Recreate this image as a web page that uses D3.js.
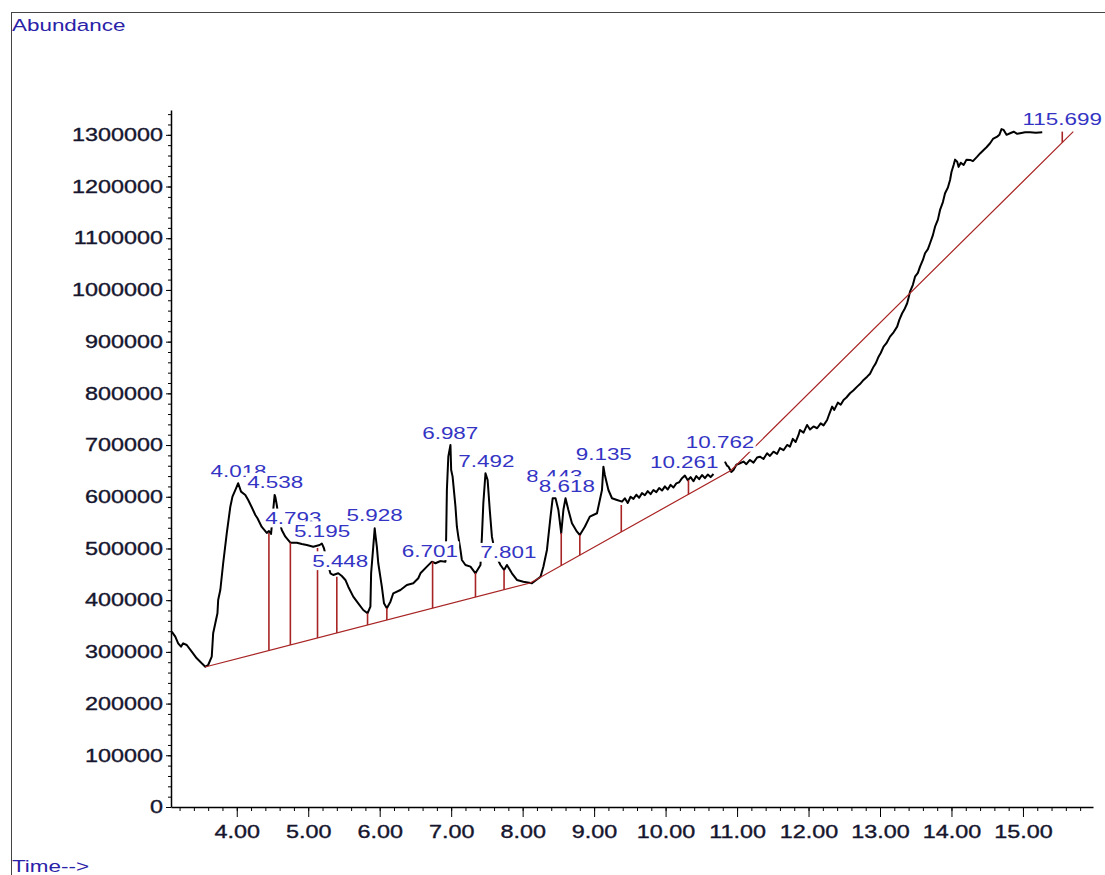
<!DOCTYPE html>
<html>
<head>
<meta charset="utf-8">
<script src="https://cdn.jsdelivr.net/npm/d3@7"></script>
<style>
body { margin: 0; background: #fff; }
text { font-family: "Liberation Sans", Arial, sans-serif; }
</style>
</head>
<body>
<div id="chart"></div>
<script>
// chromatogram trace (retention time in min, abundance)
var traceTime = [
  3.09, 3.14, 3.18, 3.22, 3.25, 3.30, 3.37, 3.44, 3.51, 3.56,
  3.60, 3.65, 3.67, 3.70, 3.73, 3.74, 3.77, 3.81, 3.86, 3.91,
  3.94, 3.99, 4.02, 4.06, 4.12, 4.16, 4.21, 4.26, 4.29, 4.35,
  4.42, 4.45, 4.48, 4.51, 4.53, 4.54, 4.56, 4.59, 4.63, 4.68,
  4.75, 4.84, 4.91, 4.98, 5.07, 5.16, 5.19, 5.22, 5.26, 5.31,
  5.35, 5.42, 5.47, 5.52, 5.56, 5.63, 5.70, 5.77, 5.83, 5.87,
  5.88, 5.91, 5.93, 5.94, 5.96, 5.98, 6.03, 6.06, 6.10, 6.15,
  6.19, 6.29, 6.38, 6.47, 6.54, 6.57, 6.66, 6.73, 6.78, 6.85,
  6.92, 6.93, 6.94, 6.96, 6.99, 7.00, 7.02, 7.06, 7.08, 7.10,
  7.13, 7.15, 7.20, 7.27, 7.34, 7.41, 7.43, 7.45, 7.48, 7.51,
  7.54, 7.57, 7.62, 7.69, 7.74, 7.78, 7.85, 7.92, 8.01, 8.13,
  8.25, 8.29, 8.34, 8.39, 8.42, 8.46, 8.50, 8.54, 8.57, 8.60,
  8.64, 8.69, 8.76, 8.80, 8.87, 8.94, 9.04, 9.08, 9.11, 9.13,
  9.15, 9.20, 9.25, 9.32, 9.39, 9.43, 9.47, 9.51, 9.55, 9.59,
  9.63, 9.67, 9.71, 9.75, 9.79, 9.83, 9.87, 9.91, 9.95, 9.99,
  10.03, 10.07, 10.11, 10.15, 10.19, 10.23, 10.27, 10.31, 10.35, 10.39,
  10.43, 10.47, 10.51, 10.55, 10.59, 10.63, 10.67, 10.75, 10.83, 10.86,
  10.88, 10.92, 10.95, 10.99, 11.04, 11.09, 11.13, 11.18, 11.23, 11.28,
  11.32, 11.37, 11.42, 11.46, 11.51, 11.56, 11.60, 11.65, 11.70, 11.74,
  11.78, 11.82, 11.86, 11.88, 11.93, 11.98, 12.02, 12.07, 12.12, 12.17,
  12.21, 12.26, 12.29, 12.33, 12.36, 12.41, 12.45, 12.49, 12.53, 12.58,
  12.63, 12.68, 12.72, 12.77, 12.82, 12.86, 12.91, 12.94, 12.98, 13.01,
  13.05, 13.09, 13.14, 13.19, 13.24, 13.27, 13.31, 13.34, 13.38, 13.40,
  13.42, 13.46, 13.49, 13.53, 13.56, 13.60, 13.63, 13.67, 13.70, 13.74,
  13.77, 13.81, 13.84, 13.88, 13.91, 13.95, 13.98, 14.00, 14.03, 14.05,
  14.08, 14.10, 14.13, 14.17, 14.21, 14.26, 14.30, 14.36, 14.40, 14.45,
  14.49, 14.54, 14.58, 14.64, 14.67, 14.70, 14.73, 14.77, 14.82, 14.87,
  14.92, 14.96, 15.03, 15.10, 15.18, 15.27
];
var traceAbundance = [
  339100, 329400, 316600, 310100, 316600, 313300, 300400, 287600, 277900, 271400,
  274600, 290700, 336000, 355300, 374700, 400400, 419700, 471400, 529400, 580800,
  600200, 616400, 626100, 609900, 603500, 593800, 579700, 564800, 558400, 541600,
  530000, 533800, 528000, 574300, 603500, 599600, 584100, 555100, 535800, 522800,
  511200, 511200, 508700, 506800, 503500, 506800, 509700, 500400, 477700, 452000,
  448700, 452000, 446800, 439100, 426100, 406800, 394000, 381000, 374700, 387400,
  452000, 503500, 539100, 526100, 503500, 471400, 426100, 394000, 384300, 397100,
  413300, 419700, 429400, 432700, 442400, 452000, 464800, 474500, 471400, 475800,
  474500, 522800, 613100, 677500, 700200, 651800, 638900, 580800, 542100, 522800,
  497100, 477700, 468100, 464800, 452000, 468100, 522800, 587400, 645400, 632500,
  574400, 522800, 487400, 468100, 458400, 468100, 452000, 439100, 435800, 432700,
  445400, 464800, 497100, 561500, 597100, 597100, 574400, 529400, 574400, 597100,
  574400, 548700, 532500, 526100, 542100, 561500, 568100, 593800, 613100, 658200,
  642100, 613100, 597100, 593800, 590500, 597000, 588000, 600000, 596000, 604000,
  598000, 607000, 603000, 611000, 605000, 613000, 609000, 617000, 612000, 620000,
  614000, 623000, 618000, 626000, 628000, 636000, 641000, 632000, 638000, 630000,
  640000, 634000, 642000, 636000, 643000, 638000, 644000, null, 667900, 660000,
  658200, 648000, 651800, 662000, 664800, 668000, 663000, 671200, 666000, 676000,
  677500, 673000, 684000, 679000, 687200, 683000, 694000, 690000, 700200, 697000,
  712000, 706000, 719500, 729200, 724000, 738900, 730000, 736000, 732500, 742000,
  738000, 748500, 760000, 774300, 768000, 782000, 778000, 787300, 792000, 800200,
  806000, 813000, 818000, 826000, 832300, 838000, 851600, 858000, 871000, 878000,
  890300, 897000, 909700, 918000, 929000, 942000, 954900, 962000, 974300, 985000,
  996700, 1010000, 1025700, 1033000, 1045000, 1058000, 1070900, 1079000, 1090300, 1106000,
  1122400, 1136000, 1154700, 1170000, 1187000, 1198000, 1212700, 1228000, 1241700, 1252000,
  1248100, 1238000, 1246000, 1241700, 1252000, 1251400, 1249000, 1257800, 1264000, 1270800,
  1276000, 1283700, 1292000, 1296500, 1300000, 1311000, 1309500, 1300000, 1303100, 1306000,
  1302000, 1303100, 1305000, 1305000, 1304000, 1305000
];

// integration baseline (red)
var baseTimes = [3.556, 8.105, 10.913, 15.704];
var baseValues = [270800, 433300, 650700, 1306200];

// peak drop lines
var dropTimes = [4.45, 4.75, 5.13, 5.40, 5.83, 6.10, 6.74, 7.34, 7.74, 8.54, 8.80, 9.38, 10.32, 15.55];
var dropTops = [530000, 511200, 501000, 445400, 374700, 384900, 474500, 452600, 458400, 530000, 526100, 584100, 632500, 1306200];

// peak labels
var peakLabels = ["4.018", "4.538", "4.793", "5.195", "5.448", "5.928", "6.701", "6.987", "7.492", "7.801", "8.443", "8.618", "9.135", "10.261", "10.762", "115.699"];
var peakLabelTimes = [4.025, 4.538, 4.793, 5.195, 5.448, 5.928, 6.701, 6.987, 7.492, 7.801, 8.443, 8.618, 9.135, 10.261, 10.762, 15.55];
var peakLabelHeights = [627300, 604800, 535800, 511200, 453200, 541600, 472500, 699600, 646600, 469400, 617600, 598200, 659600, 643500, 682200, 1307500];

// axis ticks
var yTickValues = [0, 100000, 200000, 300000, 400000, 500000, 600000, 700000, 800000, 900000, 1000000, 1100000, 1200000, 1300000];
var xTickValues = [4, 5, 6, 7, 8, 9, 10, 11, 12, 13, 14, 15];

var W = 1105, H = 875;
var sx = 1.3; // text is drawn horizontally stretched

var svg = d3.select("#chart")
    .append("svg")
    .attr("width", W)
    .attr("height", H);

// outer frame
svg.append("rect")
    .attr("x", 11.5).attr("y", 12.5)
    .attr("width", 1200).attr("height", 1000)
    .attr("fill", "none")
    .attr("stroke", "#444")
    .attr("stroke-width", 1);

var x = d3.scaleLinear().domain([3.08, 15.98]).range([171, 1093]);
var y = d3.scaleLinear().domain([0, 1348000]).range([807, 110]);

function stretch(sel, s) {
    sel.selectAll("text").each(function() {
        var t = d3.select(this);
        var xx = +t.attr("x") || 0;
        t.attr("x", xx / s).attr("transform", "scale(" + s + ",1)");
    });
}

// Y axis: minor then major
var yMinor = d3.range(0, 1340001, 20000);
svg.append("g")
    .attr("transform", "translate(171,0)")
    .call(d3.axisLeft(y).tickValues(yMinor).tickSize(3).tickSizeOuter(0).tickFormat(""))
    .call(function(g) { g.selectAll("line").attr("stroke", "#000"); g.select(".domain").attr("stroke", "#000").attr("stroke-width", 1.5); });

var yAxis = svg.append("g")
    .attr("transform", "translate(171,0)")
    .call(d3.axisLeft(y).tickValues(yTickValues).tickSize(5).tickSizeOuter(0).tickPadding(3).tickFormat(d3.format("d")));
yAxis.select(".domain").remove();
yAxis.selectAll("line").attr("stroke", "#000");
yAxis.selectAll("text").attr("font-size", 18).attr("fill", "#15152e")
    .attr("stroke", "#15152e").attr("stroke-width", 0.35)
    .attr("font-family", "Liberation Sans, Arial, sans-serif");
stretch(yAxis, sx);

// X axis
var xMinor = d3.range(3.2, 15.81, 0.2);
svg.append("g")
    .attr("transform", "translate(0,807)")
    .call(d3.axisBottom(x).tickValues(xMinor).tickSize(4).tickSizeOuter(0).tickFormat(""))
    .call(function(g) { g.selectAll("line").attr("stroke", "#000"); g.select(".domain").attr("stroke", "#000").attr("stroke-width", 1.5); });

var xAxis = svg.append("g")
    .attr("transform", "translate(0,807)")
    .call(d3.axisBottom(x).tickValues(xTickValues).tickSize(10).tickSizeOuter(0).tickPadding(8).tickFormat(d3.format(".2f")));
xAxis.select(".domain").remove();
xAxis.selectAll("line").attr("stroke", "#000");
xAxis.selectAll("text").attr("font-size", 18).attr("fill", "#15152e")
    .attr("stroke", "#15152e").attr("stroke-width", 0.35)
    .attr("font-family", "Liberation Sans, Arial, sans-serif");
stretch(xAxis, sx);

// trace
var line = d3.line()
    .defined(function(d, i) { return traceAbundance[i] !== null; })
    .x(function(d, i) { return x(traceTime[i]); })
    .y(function(d, i) { return y(traceAbundance[i]); });

svg.append("path")
    .datum(traceTime)
    .attr("d", line)
    .attr("fill", "none")
    .attr("stroke", "#000")
    .attr("stroke-width", 2)
    .attr("stroke-linejoin", "round");

// baseline
var base = d3.scaleLinear().domain(baseTimes).range(baseValues);
svg.append("path")
    .datum(baseTimes)
    .attr("d", d3.line()
        .x(function(d) { return x(d); })
        .y(function(d, i) { return y(baseValues[i]); }))
    .attr("fill", "none")
    .attr("stroke", "#a82424")
    .attr("stroke-width", 1.2);

// drop lines
svg.selectAll(".drop")
    .data(dropTimes)
    .enter()
    .append("line")
    .attr("class", "drop")
    .attr("x1", function(d) { return x(d); })
    .attr("x2", function(d) { return x(d); })
    .attr("y1", function(d) { return y(base(d)); })
    .attr("y2", function(d, i) { return y(dropTops[i]); })
    .attr("stroke", "#a82424")
    .attr("stroke-width", 1.6);

// peak labels with white boxes (later ones cover earlier ones, as in the original)
svg.selectAll(".peak")
    .data(peakLabels)
    .enter()
    .append("g")
    .attr("class", "peak")
    .attr("transform", function(d, i) {
        return "translate(" + x(peakLabelTimes[i]) + "," + (y(peakLabelHeights[i]) - 6) + ") scale(1.32,1)";
    })
    .each(function(d) {
        var g = d3.select(this);
        var t = g.append("text")
            .attr("text-anchor", "middle")
            .attr("font-size", 17)
            .attr("fill", "#3434c4")
            .text(d);
        var b = t.node().getBBox();
        g.insert("rect", "text")
            .attr("x", b.x - 1).attr("y", b.y)
            .attr("width", b.width + 2).attr("height", b.height)
            .attr("fill", "#fff");
    });

// axis titles
svg.append("text")
    .attr("transform", "translate(12,31) scale(1.32,1)")
    .attr("font-size", 17)
    .attr("fill", "#2a22a8")
    .text("Abundance");

svg.append("text")
    .attr("transform", "translate(12,872) scale(1.32,1)")
    .attr("font-size", 17)
    .attr("fill", "#2a22a8")
    .text("Time-->");
</script>
</body>
</html>
